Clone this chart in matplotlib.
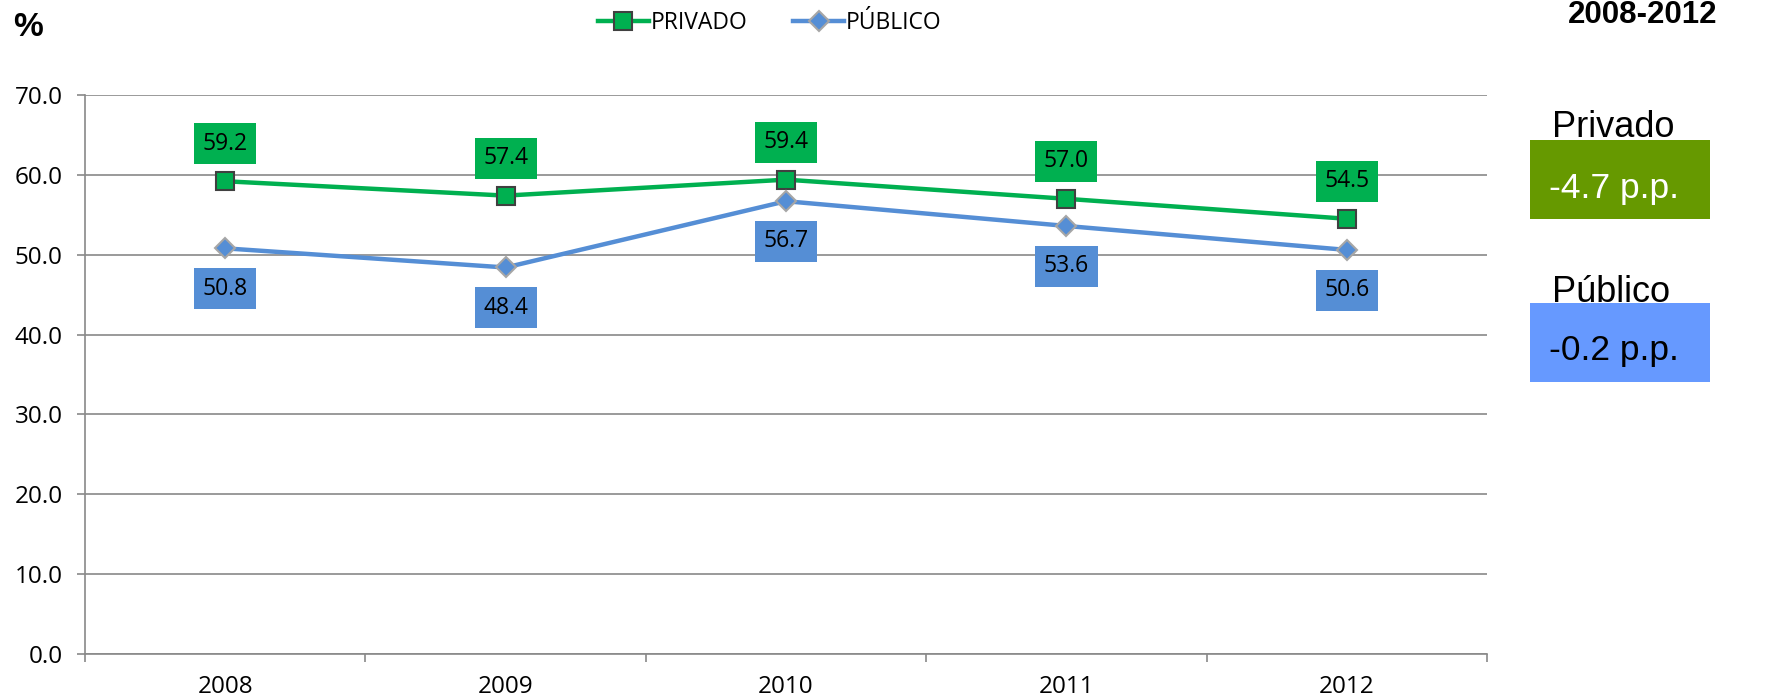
import matplotlib
matplotlib.use("Agg")
import matplotlib.pyplot as plt
from matplotlib.patches import Rectangle
from matplotlib.lines import Line2D

years = ["2008", "2009", "2010", "2011", "2012"]
privado = [59.2, 57.4, 59.4, 57.0, 54.5]
publico = [50.8, 48.4, 56.7, 53.6, 50.6]
yticks = [0, 10, 20, 30, 40, 50, 60, 70]
series_names = ["PRIVADO", "PÚBLICO"]
summary_labels = ["Privado", "Público"]
summary_values = ["-4.7 p.p.", "-0.2 p.p."]
period = "2008-2012"

W, H = 1777, 700
fig = plt.figure(figsize=(W / 100, H / 100), dpi=100)
ax = fig.add_axes([85 / W, 1 - 654 / H, (1487 - 85) / W, (654 - 95) / H])

green = "#00B050"
blue = "#558ED5"
grid_c = "#898989"
font = ["Open Sans", "DejaVu Sans"]

x = list(range(len(years)))
ax.plot(x, privado, color=green, lw=3.2, marker="s", markersize=13,
        markerfacecolor=green, markeredgecolor="#404040", markeredgewidth=1.5, zorder=4)
ax.plot(x, publico, color=blue, lw=3.2, marker="D", markersize=10,
        markerfacecolor=blue, markeredgecolor="#A6A6A6", markeredgewidth=1.5, zorder=4)

for xi, v in zip(x, privado):
    ax.annotate(f"{v:.1f}", (xi, v), xytext=(0, 27), textcoords="offset points",
                ha="center", va="center", fontsize=16.5, family=font, color="black",
                bbox=dict(boxstyle="square,pad=0.37", fc=green, ec="none"), zorder=5)
for xi, v in zip(x, publico):
    ax.annotate(f"{v:.1f}", (xi, v), xytext=(0, -29), textcoords="offset points",
                ha="center", va="center", fontsize=16.5, family=font, color="black",
                bbox=dict(boxstyle="square,pad=0.37", fc=blue, ec="none"), zorder=5)

ax.set_xlim(-0.5, len(years) - 0.5)
ax.set_ylim(0, 70)
ax.set_yticks(yticks)
ax.set_yticklabels([f"{t:.1f}" for t in yticks], fontsize=17.5, family=font)
ax.set_xticks(x)
ax.set_xticklabels(years, fontsize=17.5, family=font)
ax.set_xticks([i - 0.5 for i in range(len(years) + 1)], minor=True)
ax.tick_params(axis="x", which="major", length=0, pad=15)
ax.tick_params(axis="x", which="minor", length=6, color=grid_c, width=1.2)
ax.tick_params(axis="y", length=6, color=grid_c, width=1.2, pad=10)
ax.yaxis.grid(True, color=grid_c, lw=1.2)
ax.set_axisbelow(True)
for s in ["top", "right"]:
    ax.spines[s].set_visible(False)
for s in ["left", "bottom"]:
    ax.spines[s].set_color(grid_c)
    ax.spines[s].set_linewidth(1.2)

# legend
handles = [
    Line2D([], [], color=green, lw=3.2, marker="s", markersize=13, markerfacecolor=green,
           markeredgecolor="#404040", markeredgewidth=1.5),
    Line2D([], [], color=blue, lw=3.2, marker="D", markersize=10, markerfacecolor=blue,
           markeredgecolor="#A6A6A6", markeredgewidth=1.5),
]
fig.legend(handles, series_names, loc="center", bbox_to_anchor=(770 / W, 1 - 23 / H),
           ncol=2, frameon=False, prop={"family": font, "size": 16.5},
           handlelength=2.2, handletextpad=0.1, columnspacing=2.0)

fig.text(28 / W, 1 - 28 / H, "%", fontsize=24, fontweight="bold",
         family="Liberation Sans", ha="center", va="center")
fig.text(1643 / W, 1 - 23 / H, period, fontsize=22.5, fontweight="bold",
         family="Liberation Sans", ha="center", va="baseline")

# summary boxes
box_colors = ["#669900", "#6699FF"]
text_colors = ["white", "black"]
box_tops = [140, 303]
label_base = [137, 302]
value_base = [198, 360]
for lab, val, bc, tc, top, lb, vb in zip(summary_labels, summary_values, box_colors,
                                         text_colors, box_tops, label_base, value_base):
    fig.patches.append(Rectangle((1530 / W, 1 - (top + 79) / H), 180 / W, 79 / H,
                                 transform=fig.transFigure, fc=bc, ec="none"))
    fig.text(1552 / W, 1 - lb / H, lab, fontsize=26, family="Liberation Sans",
             ha="left", va="baseline")
    fig.text(1549 / W, 1 - vb / H, val, fontsize=25.5, family="Liberation Sans",
             ha="left", va="baseline", color=tc)

fig.savefig("out.png", dpi=100)
